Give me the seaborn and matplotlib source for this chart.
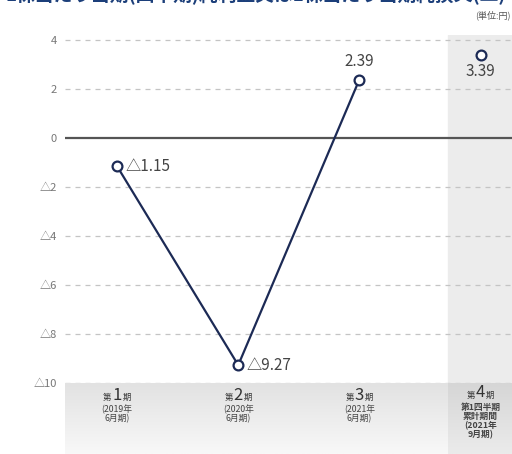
import numpy as np
import pandas as pd
import matplotlib.pyplot as plt
import seaborn as sns

# Values (yen per share, negative = loss)
periods = ["第1期", "第2期", "第3期", "第4期"]
period_nums = ["1", "2", "3", "4"]
period_sub = ["(2019年\n6月期)", "(2020年\n6月期)", "(2021年\n6月期)", "第1四半期\n累計期間\n(2021年\n9月期)"]
eps = [-1.15, -9.27, 2.39, 3.39]
eps_labels = ["△1.15", "△9.27", "2.39", "3.39"]
y_ticks = [4, 2, 0, -2, -4, -6, -8, -10]
y_tick_labels = ["4", "2", "0", "△2", "△4", "△6", "△8", "△10"]

sns.set_style("white")
plt.rcParams['font.family'] = ['Noto Sans CJK JP', 'DejaVu Sans']

navy = "#1c2a55"
txt = "#444444"

fig = plt.figure(figsize=(5.12, 4.54), dpi=100)
ax = fig.add_axes([65 / 512, 1 - 383 / 454, 1 - 65 / 512, 348 / 454])
ax2 = fig.add_axes([65 / 512, 0, 1 - 65 / 512, 71 / 454])

xlim = (-0.43, 3.26)
df = pd.DataFrame({"x": range(len(periods)), "eps": eps})

# shaded quarter column
ax.axvspan(2.73, xlim[1], color="#ececec", zorder=0)

for v in y_ticks:
    if v == 0:
        ax.axhline(v, color="#555555", lw=1.6, zorder=1)
    else:
        ax.axhline(v, color="#c4c4c4", lw=0.9, ls=(0, (4, 4)), zorder=1)

sns.lineplot(data=df.iloc[:3], x="x", y="eps", ax=ax, color=navy, lw=1.6, zorder=2)
sns.scatterplot(data=df, x="x", y="eps", ax=ax, s=50, facecolor="white",
                edgecolor=navy, linewidth=1.6, zorder=3)

offsets = [(6, 0, "left", "center"), (6, 0, "left", "center"),
           (0, 7, "center", "bottom"), (0, -6, "center", "top")]
for i, (dx, dy, ha, va) in enumerate(offsets):
    ax.annotate(eps_labels[i], (i, eps[i]), xytext=(dx, dy), textcoords="offset points",
                ha=ha, va=va, fontsize=11, color=txt)

ax.set_xlim(*xlim)
ax.set_ylim(-10, 4.21)
ax.set_yticks(y_ticks)
ax.set_yticklabels(y_tick_labels, fontsize=8, color="#777777")
ax.tick_params(axis="y", length=0, pad=6)
ax.set_xticks([])
ax.set_xlabel("")
ax.set_ylabel("")
for s in ax.spines.values():
    s.set_visible(False)

# bottom category band with a soft gradient
grad = np.linspace(0, 1, 50).reshape(-1, 1)
ax2.imshow(grad, extent=[xlim[0], 2.73, 0, 1], aspect="auto",
           cmap=sns.blend_palette(["#e2e2e2", "#f8f8f8"], as_cmap=True), origin="upper")
ax2.imshow(grad, extent=[2.73, xlim[1], 0, 1], aspect="auto",
           cmap=sns.blend_palette(["#d6d6d6", "#ebebeb"], as_cmap=True), origin="upper")
ax2.set_xlim(*xlim)
ax2.set_ylim(0, 1)
ax2.axis("off")

for i in range(len(periods)):
    yc = 0.86 if i == 3 else 0.83
    ax2.text(i, yc, period_nums[i], ha="center", va="center", fontsize=12, color="#333333")
    ax2.annotate("第", (i, yc - 0.03), xytext=(-4, 0), textcoords="offset points",
                 ha="right", va="center", fontsize=6, color="#333333")
    ax2.annotate("期", (i, yc - 0.03), xytext=(4, 0), textcoords="offset points",
                 ha="left", va="center", fontsize=6, color="#333333")
    ax2.text(i, yc - 0.14, period_sub[i], ha="center", va="top", fontsize=6.3,
             color="#444444", linespacing=1.0,
             fontweight="bold" if i == 3 else "normal")

# title (cropped at the top in the original) and unit
fig.text(0.5, 1.012, "1株当たり当期(四半期)純利益又は1株当たり当期純損失(△)",
         ha="center", va="center", fontsize=13.5, color="#1c3f7a", fontweight="bold")
fig.text(0.998, 0.967, "(単位:円)", ha="right", va="center", fontsize=6.5, color="#555555")

fig.savefig("out.png", dpi=100)
